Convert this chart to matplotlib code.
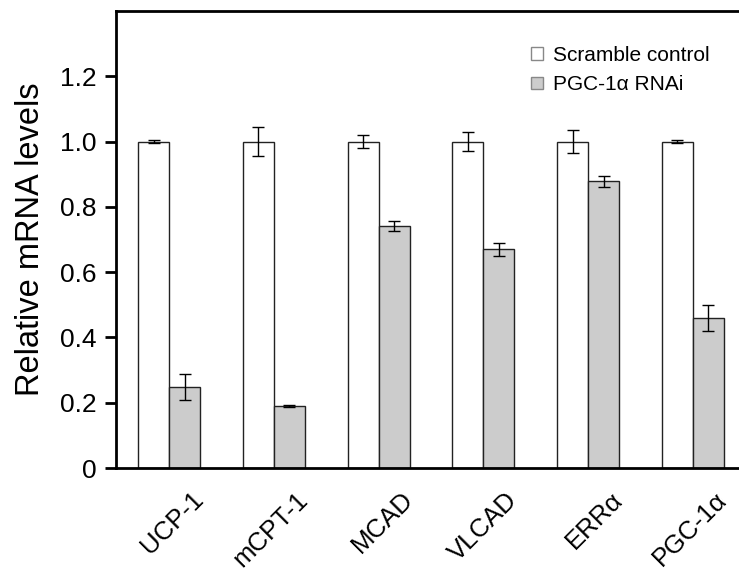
import numpy as np
import matplotlib
matplotlib.use("Agg")
import matplotlib.pyplot as plt
import matplotlib.transforms as mtransforms

plt.rcParams["font.family"] = ["Liberation Sans", "DejaVu Sans"]

genes = ["UCP-1", "mCPT-1", "MCAD", "VLCAD", "ERRα", "PGC-1α"]
control = [1.0, 1.0, 1.0, 1.0, 1.0, 1.0]
control_err = [0.004, 0.045, 0.02, 0.029, 0.034, 0.004]
rnai = [0.248, 0.19, 0.742, 0.67, 0.879, 0.459]
rnai_err = [0.04, 0.004, 0.016, 0.02, 0.017, 0.04]

x = np.arange(len(genes))
w = 0.296

fig = plt.figure(figsize=(7.39, 5.71), dpi=100)
ax = fig.add_axes([116 / 739, 1 - 468 / 571, 622 / 739, 457 / 571])

err_kw = dict(ecolor="black", elinewidth=1, capsize=4, capthick=1)
ax.bar(x - w / 2, control, w, yerr=control_err, color="white",
       edgecolor="#222222", linewidth=1, error_kw=err_kw, label="Scramble control")
ax.bar(x + w / 2, rnai, w, yerr=rnai_err, color="#cccccc",
       edgecolor="#222222", linewidth=1, error_kw=err_kw, label="PGC-1α RNAi")

ax.set_xlim(-0.506, 5.43)
ax.set_ylim(0, 1.4)
ax.set_yticks([0, 0.2, 0.4, 0.6, 0.8, 1.0, 1.2])
ax.set_yticklabels(["0", "0.2", "0.4", "0.6", "0.8", "1.0", "1.2"], fontsize=19)
ax.tick_params(axis="y", direction="out", length=8, width=2, pad=6)
ax.set_xticks(x)
ax.set_xticklabels(genes, fontsize=18.5, rotation=45, ha="right",
                   rotation_mode="anchor")
ax.tick_params(axis="x", length=0, pad=14)
offset = mtransforms.ScaledTranslation(0.22, 0, fig.dpi_scale_trans)
for lbl in ax.get_xticklabels():
    lbl.set_transform(lbl.get_transform() + offset)

ax.spines["right"].set_visible(False)
for s in ["left", "bottom", "top"]:
    ax.spines[s].set_linewidth(2)

ax.set_ylabel("Relative mRNA levels", fontsize=23.5, labelpad=10)

leg = ax.legend(loc="upper right", bbox_to_anchor=(0.985, 0.965), frameon=False,
                fontsize=15, handlelength=0.55, handleheight=0.55,
                handletextpad=0.5, labelspacing=0.5)
for h in leg.legend_handles:
    h.set_edgecolor("#888888")

fig.savefig("out.png", dpi=100)
